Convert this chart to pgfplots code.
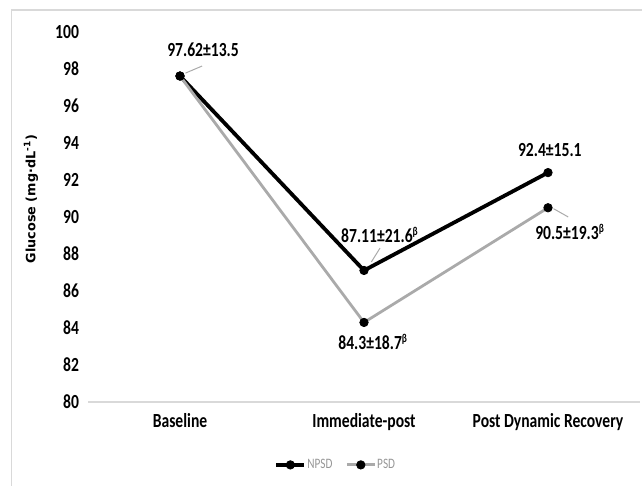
\documentclass[border=0pt]{standalone}
\usepackage{pgfplots}
\pgfplotsset{compat=1.18}
\usepackage{fontspec}
\setmainfont{Carlito}[FakeStretch=0.78]
\newfontfamily\ylabfont{DejaVu Sans}
\definecolor{psdgray}{RGB}{170,170,170}
\definecolor{boxgray}{RGB}{217,217,217}
\definecolor{leggray}{RGB}{150,150,150}
\begin{document}
\begin{tikzpicture}
\path[use as bounding box] (0,0) rectangle (321pt,243pt);
\draw[boxgray,line width=0.6pt] (5.8pt,0pt) -- (5.8pt,238pt) -- (321pt,238pt);
\node[rotate=90,font=\ylabfont\fontsize{6.4}{7}\selectfont\bfseries] at (15.5pt,143.5pt) {Glucose (mg·dL\textsuperscript{-1})};
\begin{axis}[
  at={(44pt,42pt)}, anchor=south west,
  scale only axis, width=276pt, height=185pt,
  xmin=-0.5, xmax=2.5, ymin=80, ymax=100,
  axis line style={draw=none},
  axis x line*=bottom,
  xtick=data, xticklabels={Baseline,Immediate-post,Post Dynamic Recovery},
  ytick={80,82,...,100},
  major tick length=0pt,
  tick label style={font=\fontsize{10}{11}\selectfont\bfseries},
  /pgf/number format/assume math mode=true,
  xticklabel style={yshift=-2pt},
  yticklabel style={xshift=-1pt},
  clip=false,
  legend columns=2,
  legend style={at={(0.448,-0.17)}, anchor=center, draw=none, fill=none,
    font=\fontsize{7.2}{8}\selectfont\color{leggray}, inner sep=0pt,
    /tikz/every odd column/.append style={column sep=0pt},
    /tikz/every even column/.append style={column sep=6pt},
    nodes={inner xsep=0.5pt}},
  legend image code/.code={\draw[#1] (0pt,0pt) -- (14pt,0pt); \draw[#1,mark repeat=1] plot coordinates {(7pt,0pt)};},
]
\draw[boxgray,line width=1.2pt] (axis cs:-0.5,80) -- (axis cs:2.5,80);
\addplot[black, line width=1.9pt, mark=*, mark size=2.1pt, mark options={fill=black,draw=black,line width=0.4pt}]
  coordinates {(0,97.62) (1,87.11) (2,92.4)};
\addlegendentry{NPSD}
\addplot[psdgray, line width=1.4pt, mark=*, mark size=2.1pt, mark options={fill=black,draw=black,line width=0.4pt}]
  coordinates {(0,97.62) (1,84.3) (2,90.5)};
\addlegendentry{PSD}
\begin{scope}[every node/.style={font=\fontsize{10}{11}\selectfont\bfseries}]
\draw[psdgray,line width=0.5pt] (axis cs:0.03,97.78) -- (axis cs:0.12,98.16);
\node at (axis cs:0.125,99.03) {97.62±13.5};
\draw[psdgray,line width=0.5pt] (axis cs:1.04,87.57) -- (axis cs:1.087,88.32);
\node at (axis cs:1.087,89.03) {87.11±21.6\textsuperscript{\fontsize{6}{6}\selectfont β}};
\node at (axis cs:1.05,83.24) {84.3±18.7\textsuperscript{\fontsize{6}{6}\selectfont β}};
\node at (axis cs:2.01,93.62) {92.4±15.1};
\draw[psdgray,line width=0.5pt] (axis cs:2.03,90.45) -- (axis cs:2.11,90.0);
\node at (axis cs:2.12,89.19) {90.5±19.3\textsuperscript{\fontsize{6}{6}\selectfont β}};
\end{scope}
\end{axis}
\end{tikzpicture}
\end{document}
